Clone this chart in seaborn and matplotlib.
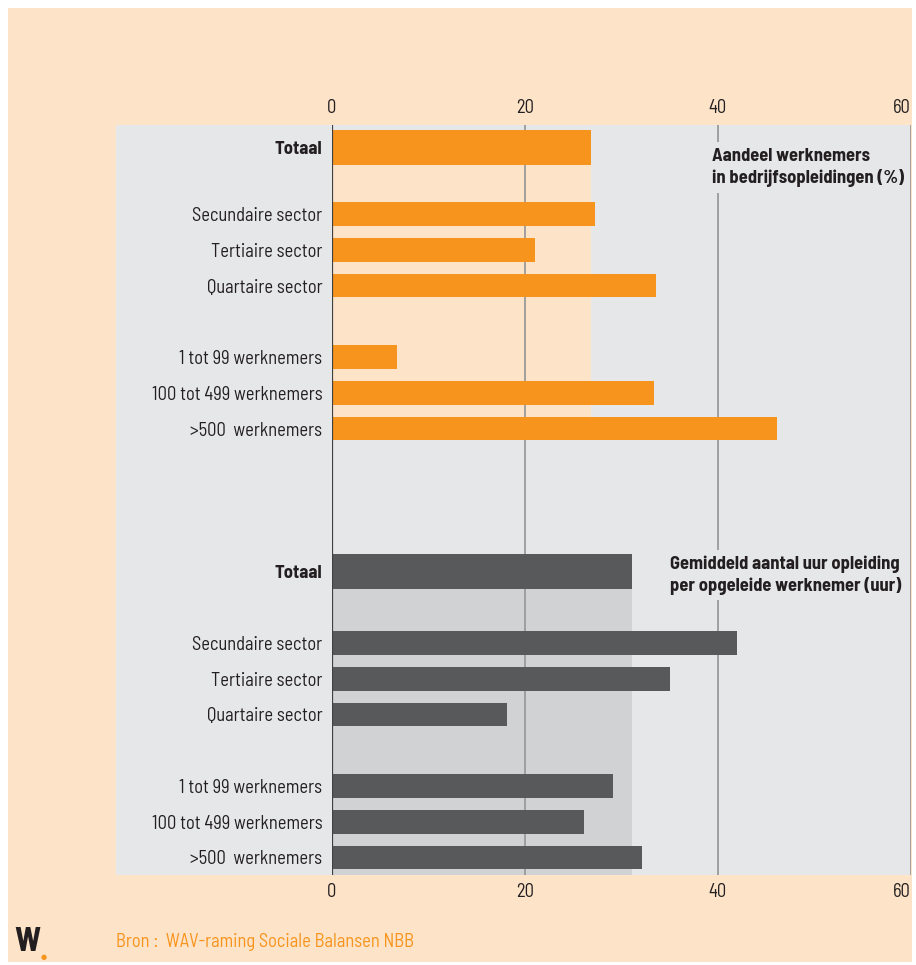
import matplotlib
matplotlib.use("Agg")
import matplotlib.pyplot as plt
from matplotlib.patches import Rectangle
import pandas as pd
import seaborn as sns

# categories (same for both panels)
categories = ["Totaal", "Secundaire sector", "Tertiaire sector", "Quartaire sector",
              "1 tot 99 werknemers", "100 tot 499 werknemers", ">500  werknemers"]
# aandeel werknemers in bedrijfsopleidingen (%)
share_pct = [26.9, 27.3, 21.1, 33.6, 6.7, 33.4, 46.2]
# gemiddeld aantal uur opleiding per opgeleide werknemer (uur)
hours = [31.1, 42.0, 35.1, 18.1, 29.1, 26.1, 32.1]
x_ticks = [0, 20, 40, 60]

# row positions (slot units, top to bottom)
pos_top = [-1.87, 0, 1, 2, 4, 5, 6]
pos_bottom = [10, 12, 13, 14, 16, 17, 18]

PEACH = "#FDE3C8"
PANEL = "#E6E7E9"
ORANGE = "#F7941D"
DARK = "#58595B"
LIGHT = "#D1D2D4"
TXT = "#231F20"

sns.set_theme(style="white")
plt.rcParams["font.family"] = ["Barlow Semi Condensed", "DejaVu Sans"]
FS = 13.3

fig = plt.figure(figsize=(9.16, 9.65), dpi=100, facecolor="white")
W, H = 916, 965
fig.patches.append(Rectangle((8 / W, 3 / H), 904 / W, 954 / H, transform=fig.transFigure,
                             facecolor=PEACH, edgecolor="none", zorder=-10))
fig.patches.append(Rectangle((116 / W, 90 / H), 216 / W, 750 / H, transform=fig.transFigure,
                             facecolor=PANEL, edgecolor="none", zorder=-5))

ax = fig.add_axes([332 / W, 90 / H, 579 / W, 750 / H])
ax.set_facecolor(PANEL)

top = pd.DataFrame({"cat": categories, "value": share_pct, "pos": pos_top})
bot = pd.DataFrame({"cat": categories, "value": hours, "pos": pos_bottom})

# highlight areas up to the Totaal value
ax.add_patch(Rectangle((0, pos_top[0] + 0.49), share_pct[0], pos_top[-1] + 0.335 - pos_top[0] - 0.49,
                       facecolor=PEACH, edgecolor="none", zorder=0.5))
ax.add_patch(Rectangle((0, pos_bottom[0] + 0.49), hours[0], 8.5,
                       facecolor=LIGHT, edgecolor="none", zorder=0.5))

for xv in x_ticks[1:]:
    ax.axvline(xv, color="#9A9A9A", lw=1.3, zorder=1)

for df, col in [(top, ORANGE), (bot, DARK)]:
    sns.barplot(data=df.iloc[1:], x="value", y="pos", orient="y", native_scale=True,
                color=col, saturation=1, width=0.67, linewidth=0, ax=ax, zorder=2)
    sns.barplot(data=df.iloc[:1], x="value", y="pos", orient="y", native_scale=True,
                color=col, saturation=1, width=0.98, linewidth=0, ax=ax, zorder=2)

ax.axvline(0, color="#404041", lw=1.6, zorder=3)

ax.set_xlim(0, 60.05)
ax.set_ylim(18.49, -2.49)
for s in ax.spines.values():
    s.set_visible(False)

ax.set_xticks(x_ticks)
ax.set_xticklabels([str(t) for t in x_ticks])
ax.tick_params(axis="x", length=0, pad=6, labelsize=FS, labelcolor=TXT,
               top=False, labeltop=True, bottom=False, labelbottom=True)
for tk in ax.xaxis.get_major_ticks()[-1:]:
    tk.label1.set_horizontalalignment("right")
    tk.label2.set_horizontalalignment("right")
ax.set_yticks(pos_top + pos_bottom)
ax.set_yticklabels(categories + categories)
ax.tick_params(axis="y", length=0, pad=7, labelsize=FS, labelcolor=TXT)
for i, lab in enumerate(ax.get_yticklabels()):
    if categories[i % len(categories)] == "Totaal":
        lab.set_fontweight("bold")
ax.set_xlabel("")
ax.set_ylabel("")

ax.text(39.4, -1.3, "Aandeel werknemers\nin bedrijfsopleidingen (%)", fontsize=FS,
        fontweight="bold", color=TXT, ha="left", va="center", linespacing=1.3, zorder=4,
        bbox=dict(facecolor=PANEL, edgecolor="none", pad=4))
ax.text(35.1, 10.1, "Gemiddeld aantal uur opleiding\nper opgeleide werknemer (uur)", fontsize=FS,
        fontweight="bold", color=TXT, ha="left", va="center", linespacing=1.3, zorder=4,
        bbox=dict(facecolor=PANEL, edgecolor="none", pad=4))

fig.text(116 / W, 1 - 942 / H, "Bron :  WAV-raming Sociale Balansen NBB", color=ORANGE,
         fontsize=FS, ha="left", va="center")
fig.text(14 / W, 1 - 942 / H, "W", color="#231F20", fontsize=24, fontweight="bold",
         ha="left", va="center")
fig.text(44 / W, 1 - 957 / H, "\u25CF", color=ORANGE, fontsize=5, ha="center", va="center")

fig.savefig("out.png", dpi=100, facecolor="white")
